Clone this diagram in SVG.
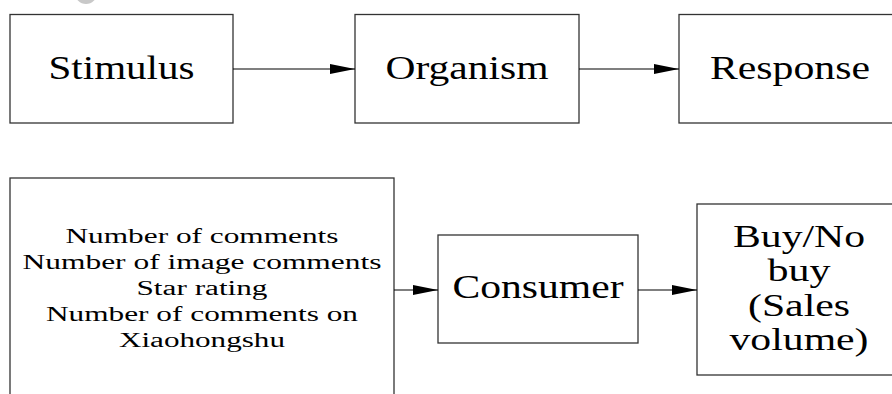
<svg xmlns="http://www.w3.org/2000/svg" width="892" height="394" viewBox="0 0 892 394">
<style>
.box{fill:#fff;stroke:#333;stroke-width:1.3}
.t{font-family:"Liberation Serif","Times New Roman",serif;fill:#000;text-anchor:middle}
.big{font-size:33px}
.sm{font-size:20px}
.mid{font-size:31px}
.conn line{stroke:#000;stroke-width:1.2}
</style>
<defs>
<marker id="ah" markerUnits="userSpaceOnUse" markerWidth="26" markerHeight="12" refX="25" refY="6" orient="auto">
<path d="M0,1 L25,6 L0,11 Z" fill="#000"/>
</marker>
</defs>
<rect width="892" height="394" fill="#fff"/>
<circle cx="86" cy="-7" r="11" fill="#c8c8c8"/>
<g id="stimulus">
<rect class="box" x="10" y="14.5" width="223" height="108.5"/>
<text class="t big" x="121.5" y="79" textLength="146" lengthAdjust="spacingAndGlyphs">Stimulus</text>
</g>
<g id="organism">
<rect class="box" x="355" y="14.5" width="224" height="108.5"/>
<text class="t big" x="467" y="79" textLength="163" lengthAdjust="spacingAndGlyphs">Organism</text>
</g>
<g id="response">
<rect class="box" x="679" y="14.5" width="222" height="108.5"/>
<text class="t big" x="790" y="79" textLength="160" lengthAdjust="spacingAndGlyphs">Response</text>
</g>
<g id="factors">
<rect class="box" x="10" y="178" width="384" height="230"/>
<text class="t sm" x="202" y="243" textLength="273" lengthAdjust="spacingAndGlyphs">Number of comments</text>
<text class="t sm" x="202" y="269" textLength="359" lengthAdjust="spacingAndGlyphs">Number of image comments</text>
<text class="t sm" x="202" y="295" textLength="131" lengthAdjust="spacingAndGlyphs">Star rating</text>
<text class="t sm" x="202" y="321" textLength="312" lengthAdjust="spacingAndGlyphs">Number of comments on</text>
<text class="t sm" x="202" y="347" textLength="166" lengthAdjust="spacingAndGlyphs">Xiaohongshu</text>
</g>
<g id="consumer">
<rect class="box" x="438" y="235" width="200" height="108"/>
<text class="t big" x="538" y="298" textLength="171" lengthAdjust="spacingAndGlyphs">Consumer</text>
</g>
<g id="buy">
<rect class="box" x="697" y="204" width="204" height="171"/>
<text class="t mid" x="799" y="247" textLength="132" lengthAdjust="spacingAndGlyphs">Buy/No</text>
<text class="t mid" x="799" y="281" textLength="63" lengthAdjust="spacingAndGlyphs">buy</text>
<text class="t mid" x="799" y="316" textLength="102" lengthAdjust="spacingAndGlyphs">(Sales</text>
<text class="t mid" x="799" y="350" textLength="139" lengthAdjust="spacingAndGlyphs">volume)</text>
</g>
<g id="connectors" class="conn">
<line x1="233" y1="69" x2="355" y2="69" marker-end="url(#ah)"/>
<line x1="579" y1="69" x2="679" y2="69" marker-end="url(#ah)"/>
<line x1="394" y1="290" x2="438" y2="290" marker-end="url(#ah)"/>
<line x1="638" y1="290" x2="697" y2="290" marker-end="url(#ah)"/>
</g>
</svg>
